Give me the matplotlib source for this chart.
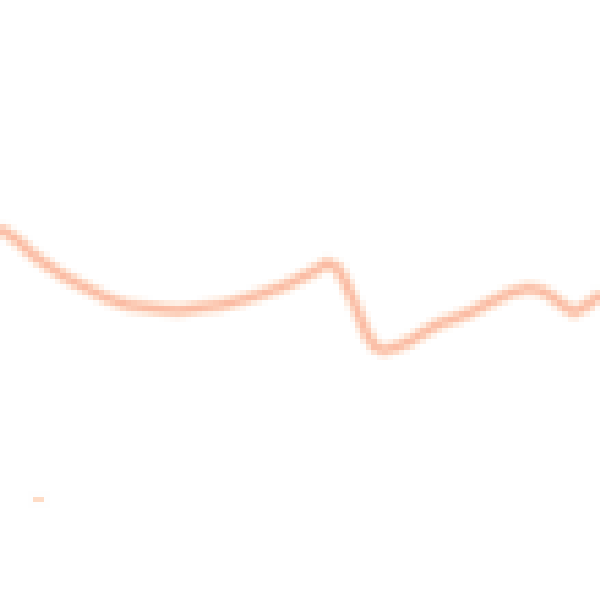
import io
import numpy as np
import matplotlib
matplotlib.use("Agg")
import matplotlib.pyplot as plt
from matplotlib.lines import Line2D

# values (x across, y up, both 0..100)
x = [0, 2.8, 5.5, 8.3, 11.2, 14.5, 17.8, 21.2, 25, 29.5, 32.8, 36.7, 40, 43.3,
     46.7, 50, 52.5, 54.5, 56.2, 57.5, 58.8, 60, 61.2, 62.5, 63.8, 65.8, 68.3,
     70.8, 73.3, 75.8, 77.8, 80, 81.7, 85, 87.8, 90, 91.7, 93.3, 95.5, 97.8, 100]
y = [62.0, 60.0, 57.5, 55.5, 53.7, 52.0, 50.3, 49.2, 48.7, 48.3, 48.7, 49.2, 50,
     51, 52.2, 53.7, 55, 56.2, 55.3, 53, 50, 47, 44.2, 42.3, 41.7, 42.2, 43.3,
     44.8, 46.2, 47, 47.8, 48.8, 49.7, 51.3, 52, 51.7, 50.8, 49.5, 48, 49.2, 51]

fig = plt.figure(figsize=(6, 6))
ax = fig.add_axes([0, 0, 1, 1])
# soft halo + core, gives the blurred band
ax.plot(x, y, color="#FEE3D2", linewidth=11, solid_capstyle="butt")
ax.plot(x, y, color="#FBBCA4", linewidth=5, solid_capstyle="butt")
ax.set_xlim(0, 100)
ax.set_ylim(0, 100)
ax.axis("off")

# legend handle with no text, bottom left
handle = Line2D([], [], color="#FEDCC6", linewidth=4)
ax.legend(handles=[handle], labels=[""], loc="center left",
          bbox_to_anchor=(0.053, 0.17), frameon=False, borderpad=0,
          borderaxespad=0, handlelength=0.6, handletextpad=0)

# render small, then blow up with nearest neighbour for the blocky look
small = 110
buf = io.BytesIO()
fig.savefig(buf, format="png", dpi=small / 6)
buf.seek(0)
img = plt.imread(buf)
idx = np.arange(600) * img.shape[0] // 600
big = img[idx][:, idx]
plt.imsave("out.png", big)
